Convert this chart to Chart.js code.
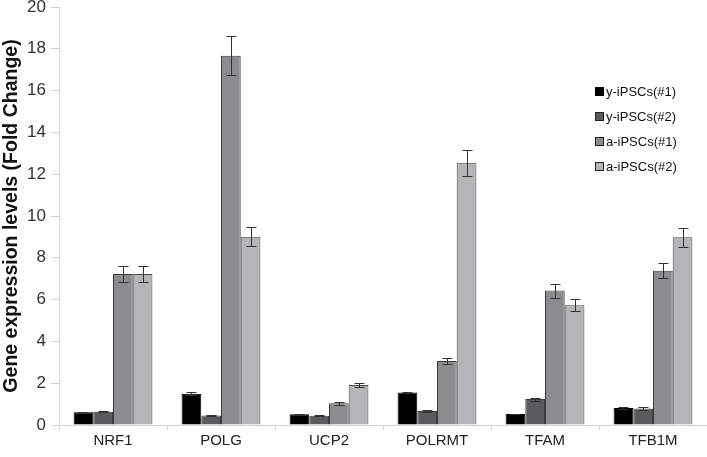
<!DOCTYPE html>
<html>
<head>
<meta charset="utf-8">
<script src="https://cdn.jsdelivr.net/npm/chart.js@4"></script>
<style>
  html, body { margin: 0; padding: 0; background: #fff; }
  #wrap { width: 707px; height: 457px; }
</style>
</head>
<body>
<div id="wrap"><canvas id="chart" width="707" height="457"></canvas></div>
<script>
const genes = ['NRF1', 'POLG', 'UCP2', 'POLRMT', 'TFAM', 'TFB1M']
const seriesNames = ['y-iPSCs(#1)', 'y-iPSCs(#2)', 'a-iPSCs(#1)', 'a-iPSCs(#2)']

const yIps1 = [0.61, 1.50, 0.51, 1.55, 0.53, 0.81]
const yIps2 = [0.63, 0.46, 0.44, 0.67, 1.24, 0.79]
const aIps1 = [7.22, 17.67, 1.04, 3.06, 6.43, 7.38]
const aIps2 = [7.22, 9.01, 1.91, 12.55, 5.73, 8.98]

const yIps1Err = [0.03, 0.06, 0.03, 0.04, 0.02, 0.03]
const yIps2Err = [0.03, 0.03, 0.03, 0.04, 0.07, 0.05]
const aIps1Err = [0.37, 0.92, 0.06, 0.16, 0.33, 0.37]
const aIps2Err = [0.37, 0.46, 0.10, 0.63, 0.28, 0.46]

const yTicks = [0, 2, 4, 6, 8, 10, 12, 14, 16, 18, 20]

const fills = ['#000000', '#5a5b5d', '#8a8c8e', '#b4b5b7']
const edges = ['#000000', '#3c3c3c', '#3c3c3c', '#4a4a4a']

const values = [yIps1, yIps2, aIps1, aIps2]
const errors = [yIps1Err, yIps2Err, aIps1Err, aIps2Err]

// whiskers on top of every bar
const errorBars = {
  id: 'errorBars',
  afterDatasetsDraw (chart) {
    const ctx = chart.ctx
    const y = chart.scales.y
    ctx.save()
    ctx.strokeStyle = '#333'
    ctx.lineWidth = 1
    chart.data.datasets.forEach((ds, i) => {
      const meta = chart.getDatasetMeta(i)
      meta.data.forEach((bar, j) => {
        const v = ds.data[j]
        const e = ds.errors[j]
        const top = Math.round(y.getPixelForValue(v + e)) + 0.5
        const bot = Math.round(y.getPixelForValue(v - e)) + 0.5
        const x = Math.round(bar.x) + 0.5
        ctx.beginPath()
        ctx.moveTo(x, top); ctx.lineTo(x, bot)
        ctx.moveTo(x - 5, top); ctx.lineTo(x + 5, top)
        ctx.moveTo(x - 5, bot); ctx.lineTo(x + 5, bot)
        ctx.stroke()
      })
    })
    ctx.restore()
  }
}

// small legend at the upper right
const boxLegend = {
  id: 'boxLegend',
  afterDraw (chart) {
    const ctx = chart.ctx
    ctx.save()
    ctx.font = '13px "Liberation Sans", Arial, sans-serif'
    ctx.textBaseline = 'middle'
    chart.data.datasets.forEach((ds, i) => {
      const cy = 92 + i * 25
      ctx.fillStyle = ds.backgroundColor
      ctx.fillRect(595, cy - 5, 9, 9)
      ctx.strokeStyle = i === 0 ? '#000' : '#222'
      ctx.lineWidth = 1
      ctx.strokeRect(595.5, cy - 4.5, 8, 8)
      ctx.fillStyle = '#111'
      ctx.fillText(ds.label, 606, cy)
    })
    ctx.restore()
  }
}

new Chart(document.getElementById('chart'), {
  type: 'bar',
  data: {
    labels: genes,
    datasets: seriesNames.map((name, i) => ({
      label: name,
      data: values[i],
      errors: errors[i],
      backgroundColor: fills[i],
      borderColor: edges[i],
      borderWidth: 1,
      categoryPercentage: 0.73,
      barPercentage: 1
    }))
  },
  options: {
    responsive: false,
    animation: false,
    layout: { padding: { top: 7, right: 0, bottom: 0, left: 0 } },
    scales: {
      x: {
        grid: {
          offset: true,
          drawOnChartArea: false,
          drawTicks: true,
          tickLength: 5,
          color: '#d4d4d4'
        },
        border: { color: '#d4d4d4' },
        ticks: {
          color: '#222',
          padding: 2,
          font: { family: '"Liberation Sans", Arial, sans-serif', size: 15 }
        },
        afterFit (scale) { scale.height = 32 }
      },
      y: {
        min: 0,
        max: 20,
        afterBuildTicks (scale) { scale.ticks = yTicks.map(v => ({ value: v })) },
        grid: {
          drawOnChartArea: false,
          drawTicks: true,
          tickLength: 8,
          color: '#d4d4d4'
        },
        border: { color: '#d4d4d4' },
        ticks: {
          color: '#333',
          padding: 5,
          font: { family: '"Liberation Sans", Arial, sans-serif', size: 17 }
        },
        title: {
          display: true,
          text: 'Gene expression levels (Fold Change)',
          color: '#111',
          padding: { top: 0, bottom: 0 },
          font: { family: '"Liberation Sans", Arial, sans-serif', size: 19.5, weight: 'bold' }
        },
        afterFit (scale) {
          scale.width = 59
          scale.paddingTop = 0
          scale.paddingBottom = 0
        }
      }
    },
    plugins: {
      legend: { display: false },
      tooltip: { enabled: false }
    }
  },
  plugins: [errorBars, boxLegend]
})
</script>
</body>
</html>
